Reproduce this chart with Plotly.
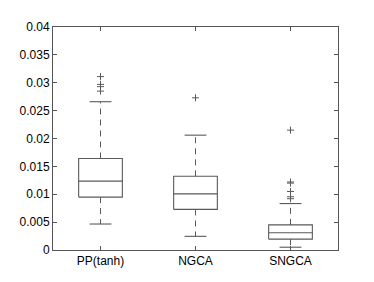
import plotly.graph_objects as go

categories = ["PP(tanh)", "NGCA", "SNGCA"]
q1 = [0.00949, 0.00728, 0.00195]
median = [0.01235, 0.01007, 0.00309]
q3 = [0.01642, 0.01322, 0.00451]
lower_whisker = [0.00466, 0.00245, 0.00050]
upper_whisker = [0.0266, 0.0206, 0.00833]
outliers = [
    [0.0311, 0.0297, 0.0293, 0.0285],
    [0.0273],
    [0.0215, 0.0122, 0.0120, 0.0105, 0.00955, 0.0092],
]
y_ticks = [0, 0.005, 0.01, 0.015, 0.02, 0.025, 0.03, 0.035, 0.04]
y_tick_labels = ["0", "0.005", "0.01", "0.015", "0.02", "0.025", "0.03", "0.035", "0.04"]

BOX_HALF = 0.23
CAP_HALF = 0.115
LINE_COLOR = "#5a5a5a"

fig = go.Figure()
for i, cat in enumerate(categories):
    p = i + 1
    fig.add_trace(go.Scatter(
        x=[p - BOX_HALF, p + BOX_HALF, p + BOX_HALF, p - BOX_HALF, p - BOX_HALF],
        y=[q1[i], q1[i], q3[i], q3[i], q1[i]],
        mode="lines", line=dict(color=LINE_COLOR, width=1.1), hoverinfo="skip", showlegend=False))
    fig.add_trace(go.Scatter(
        x=[p - BOX_HALF, p + BOX_HALF], y=[median[i], median[i]],
        mode="lines", line=dict(color=LINE_COLOR, width=1.1), showlegend=False))
    fig.add_trace(go.Scatter(
        x=[p, p, None, p, p], y=[q3[i], upper_whisker[i], None, q1[i], lower_whisker[i]],
        mode="lines", line=dict(color=LINE_COLOR, width=1, dash="6px,5px"), showlegend=False))
    fig.add_trace(go.Scatter(
        x=[p - CAP_HALF, p + CAP_HALF, None, p - CAP_HALF, p + CAP_HALF],
        y=[upper_whisker[i], upper_whisker[i], None, lower_whisker[i], lower_whisker[i]],
        mode="lines", line=dict(color=LINE_COLOR, width=1.1), showlegend=False))
    fig.add_trace(go.Scatter(
        x=[p] * len(outliers[i]), y=outliers[i], mode="markers",
        marker=dict(symbol="cross-thin", size=5, line=dict(color=LINE_COLOR, width=1)),
        showlegend=False))

axis_common = dict(
    showline=True, linecolor="#555555", linewidth=1, mirror="ticks",
    ticks="inside", ticklen=4, tickcolor="#555555", showgrid=False, zeroline=False,
    tickfont=dict(family="Liberation Sans, Arial, sans-serif", size=12, color="black"),
)
fig.update_xaxes(range=[0.5, 3.5], tickvals=[1, 2, 3], ticktext=categories, **axis_common)
fig.update_yaxes(range=[0, 0.04], tickvals=y_ticks, ticktext=y_tick_labels, **axis_common)

# page body has an 8px margin, so offset the plot area accordingly
fig.update_layout(
    width=374, height=282,
    margin=dict(l=41, r=44, t=13, b=40),
    plot_bgcolor="white", paper_bgcolor="white",
)
fig.write_html("out.html")
